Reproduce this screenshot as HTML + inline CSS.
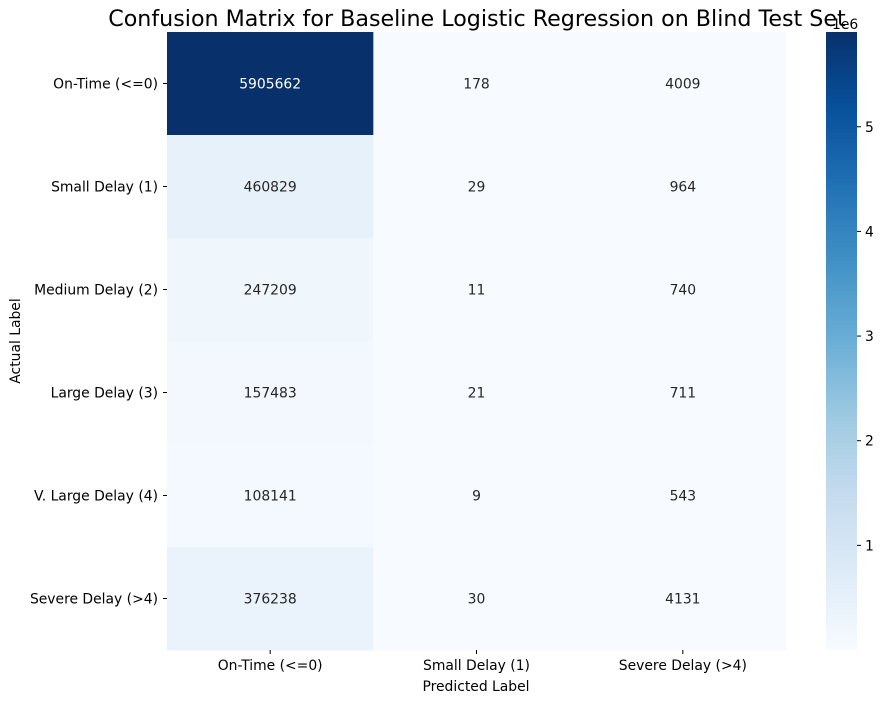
<!DOCTYPE html>
<html><head><meta charset="utf-8"><style>
body{margin:0;background:#fff;font-family:"Liberation Sans","DejaVu Sans",sans-serif;}
</style></head><body>
<svg id="chart" width="885" height="703" xmlns="http://www.w3.org/2000/svg" font-family="DejaVu Sans, Liberation Sans, sans-serif">
<defs><linearGradient id="cbg" x1="0" y1="1" x2="0" y2="0"></linearGradient></defs>
<text x="477" y="26" font-size="22.2" text-anchor="middle">Confusion Matrix for Baseline Logistic Regression on Blind Test Set</text>
<g id="cells"></g>
<g id="ylabels"></g>
<g id="xlabels"></g>
<text x="476" y="691" font-size="13.9" text-anchor="middle">Predicted Label</text>
<text x="20" y="341" font-size="13.9" text-anchor="middle" transform="rotate(-90 20 341)">Actual Label</text>
<rect x="826" y="32" width="31" height="618" fill="url(#cbg)"/>
<g id="cbticks"></g>
<text x="832" y="29" font-size="13.9">1e6</text>
</svg>
<script>
const rowLabels=["On-Time (<=0)","Small Delay (1)","Medium Delay (2)","Large Delay (3)","V. Large Delay (4)","Severe Delay (>4)"];
const colLabels=["On-Time (<=0)","Small Delay (1)","Severe Delay (>4)"];
const col0=[5905662,460829,247209,157483,108141,376238];
const col1=[178,29,11,21,9,30];
const col2=[4009,964,740,711,543,4131];
const cbTicks=[1,2,3,4,5];
const NS="http://www.w3.org/2000/svg";
const cols=[col0,col1,col2];
const all=cols.flat();
const vmin=Math.min(...all),vmax=Math.max(...all);
const X0=167,X1=786,Y0=32,Y1=650;
const cw=(X1-X0)/colLabels.length,rh=(Y1-Y0)/rowLabels.length;
const stops=["#f7fbff","#deebf7","#c6dbef","#9ecae1","#6baed6","#4292c6","#2171b5","#08519c","#08306b"];
function hex(h){return[1,3,5].map(i=>parseInt(h.substr(i,2),16));}
function blues(t){t=Math.max(0,Math.min(1,t));const p=t*8,i=Math.min(7,Math.floor(p)),f=p-i;const a=hex(stops[i]),b=hex(stops[i+1]);return`rgb(${a.map((v,k)=>Math.round(v+(b[k]-v)*f)).join(",")})`;}
function norm(v){return (v-vmin)/(vmax-vmin);}
function mk(tag,attrs,parent,text){const e=document.createElementNS(NS,tag);for(const k in attrs)e.setAttribute(k,attrs[k]);if(text!==undefined)e.textContent=text;parent.appendChild(e);return e;}
const gc=document.getElementById('cells');
cols.forEach((arr,c)=>arr.forEach((v,r)=>{
  const rc=mk('rect',{x:X0+c*cw,y:Y0+r*rh,width:cw+0.5,height:rh+0.5,fill:blues(norm(v))},gc);
  
  
  const t=mk('text',{x:X0+(c+0.5)*cw,y:Y0+(r+0.5)*rh+5,'font-size':13.9,'text-anchor':'middle',fill:norm(v)>0.5?'#fff':'#262626'},gc,String(v));
  
  
}));
const gy=document.getElementById('ylabels');
rowLabels.forEach((l,r)=>{const y=Y0+(r+0.5)*rh;
  mk('line',{x1:X0-4,x2:X0,y1:y,y2:y,stroke:'#000'},gy);
  const t=mk('text',{x:X0-9,y:y+5,'font-size':13.9,'text-anchor':'end'},gy,l);
  
  });
const gx=document.getElementById('xlabels');
colLabels.forEach((l,c)=>{const x=X0+(c+0.5)*cw;
  mk('line',{x1:x,x2:x,y1:Y1,y2:Y1+4,stroke:'#000'},gx);
  const t=mk('text',{x:x,y:Y1+20,'font-size':13.9,'text-anchor':'middle'},gx,l);
  
  });
const grad=document.getElementById('cbg');
for(let i=0;i<=16;i++)mk('stop',{offset:i/16,'stop-color':blues(i/16)},grad);
const gt=document.getElementById('cbticks');
cbTicks.forEach(v=>{const y=Y1-(v*1e6-vmin)/(vmax-vmin)*(Y1-Y0);
  mk('line',{x1:857,x2:861,y1:y,y2:y,stroke:'#000'},gt);
  const t=mk('text',{x:865,y:y+5,'font-size':13.9},gt,String(v));
  
  });
</script>
</body></html>
